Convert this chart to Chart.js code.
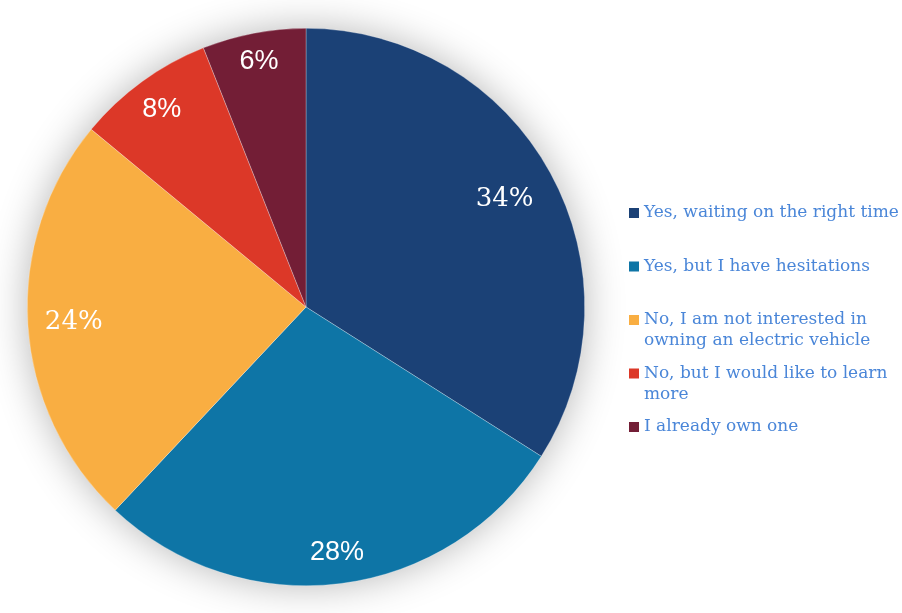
<!DOCTYPE html>
<html>
<head>
<meta charset="utf-8">
<script src="https://cdn.jsdelivr.net/npm/chart.js@4"></script>
<style>
html,body{margin:0;padding:0;background:#fff;}
#wrap{width:902px;height:613px;position:relative;}
</style>
</head>
<body>
<div id="wrap"><canvas id="c" width="902" height="613"></canvas></div>
<script>
const categories = [
  "Yes, waiting on the right time",
  "Yes, but I have hesitations",
  "No, I am not interested in owning an electric vehicle",
  "No, but I would like to learn more",
  "I already own one"
];
const values = [34, 28, 24, 8, 6];
const valueLabels = ["34%", "28%", "24%", "8%", "6%"];
const colors = ["#1b4176", "#0e75a6", "#f9ae42", "#dc3828", "#731e36"];

const labelStyle = {
  dist: [0.813, 0.885, 0.835, 0.88, 0.90],
  font: [
    "26px 'DejaVu Serif'",
    "27px 'Liberation Sans'",
    "26px 'DejaVu Serif'",
    "27px 'Liberation Sans'",
    "27px 'Liberation Sans'"
  ]
};

const shadowPlugin = {
  id: 'pieShadow',
  beforeDatasetsDraw(chart) {
    const arc = chart.getDatasetMeta(0).data[0];
    if (!arc) return;
    const ctx = chart.ctx;
    ctx.save();
    ctx.shadowColor = 'rgba(0,0,0,0.30)';
    ctx.shadowBlur = 40;
    ctx.shadowOffsetX = 0;
    ctx.shadowOffsetY = 0;
    ctx.fillStyle = '#ffffff';
    ctx.beginPath();
    ctx.arc(arc.x, arc.y, arc.outerRadius - 1, 0, Math.PI * 2);
    ctx.fill();
    ctx.restore();
  }
};

const valueLabelPlugin = {
  id: 'valueLabels',
  afterDatasetsDraw(chart) {
    const ctx = chart.ctx;
    const meta = chart.getDatasetMeta(0);
    meta.data.forEach((arc, i) => {
      const mid = (arc.startAngle + arc.endAngle) / 2;
      const r = arc.outerRadius * labelStyle.dist[i];
      const x = arc.x + Math.cos(mid) * r;
      const y = arc.y + Math.sin(mid) * r;
      ctx.save();
      ctx.fillStyle = '#ffffff';
      ctx.font = labelStyle.font[i];
      ctx.textAlign = 'center';
      ctx.textBaseline = 'middle';
      ctx.fillText(valueLabels[i], x, y + 1);
      ctx.restore();
    });
  }
};

function wrapText(ctx, text, maxW) {
  const words = text.split(' ');
  const lines = [];
  let cur = '';
  words.forEach(w => {
    const t = cur ? cur + ' ' + w : w;
    if (ctx.measureText(t).width > maxW && cur) {
      lines.push(cur);
      cur = w;
    } else cur = t;
  });
  if (cur) lines.push(cur);
  return lines;
}

const legendPlugin = {
  id: 'sideLegend',
  afterDraw(chart) {
    const ctx = chart.ctx;
    const x0 = 629, tx = 644, y0 = 213, step = 53.5, lh = 21, box = 10;
    ctx.save();
    ctx.font = "17px 'DejaVu Serif'";
    ctx.textBaseline = 'middle';
    ctx.textAlign = 'left';
    chart.data.labels.forEach((lab, i) => {
      const y = y0 + i * step;
      ctx.fillStyle = chart.data.datasets[0].backgroundColor[i];
      ctx.fillRect(x0, y - box / 2, box, box);
      ctx.fillStyle = '#4a86d8';
      const lines = wrapText(ctx, lab, 266);
      lines.forEach((ln, j) => ctx.fillText(ln, tx, y + j * lh));
    });
    ctx.restore();
  }
};

new Chart(document.getElementById('c'), {
  type: 'pie',
  data: {
    labels: categories,
    datasets: [{
      data: values,
      backgroundColor: colors,
      borderColor: 'rgba(255,255,255,0.45)',
      borderWidth: 0.6,
      hoverOffset: 0
    }]
  },
  options: {
    responsive: false,
    animation: false,
    devicePixelRatio: 1,
    layout: { padding: { left: 27, right: 317, top: 28, bottom: 27 } },
    plugins: {
      legend: { display: false },
      tooltip: { enabled: false }
    }
  },
  plugins: [shadowPlugin, valueLabelPlugin, legendPlugin]
});
</script>
</body>
</html>
